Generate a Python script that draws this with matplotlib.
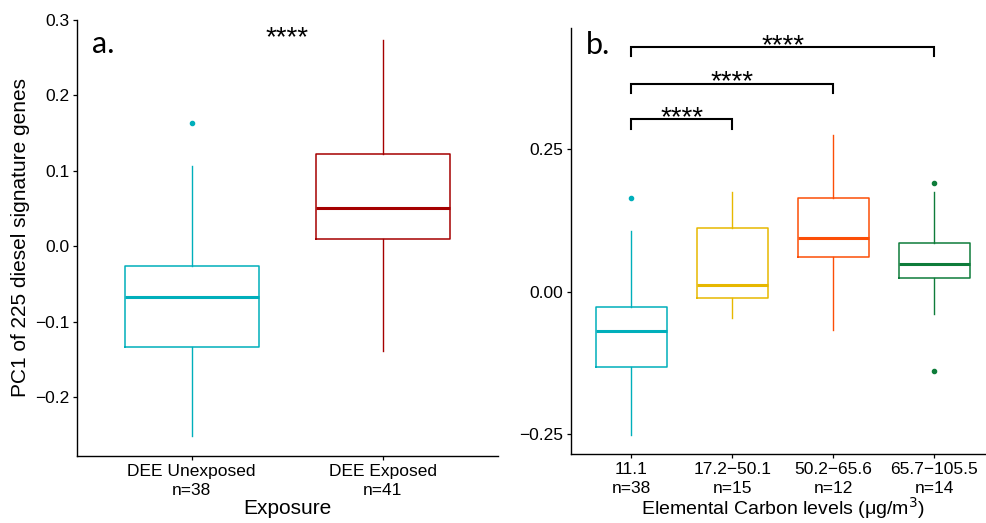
import matplotlib
matplotlib.use("Agg")
import matplotlib.pyplot as plt

plt.rcParams['font.family'] = ['Liberation Sans', 'DejaVu Sans']

# ---------------- data: panel a ----------------
exp_labels = ["DEE Unexposed\nn=38", "DEE Exposed\nn=41"]
exp_colors = ["#00AFBB", "#A50000"]
exp_whislo = [-0.252, -0.139]
exp_q1 = [-0.133, 0.009]
exp_med = [-0.0675, 0.0505]
exp_q3 = [-0.0265, 0.123]
exp_whishi = [0.107, 0.274]
exp_fliers = [[0.164], []]

# ---------------- data: panel b ----------------
ec_labels = ["11.1\nn=38", "17.2\u221250.1\nn=15", "50.2\u221265.6\nn=12", "65.7\u2212105.5\nn=14"]
ec_colors = ["#00AFBB", "#E7B800", "#FC4E07", "#0E7C3A"]
ec_whislo = [-0.251, -0.046, -0.067, -0.039]
ec_q1 = [-0.1328, -0.011, 0.060, 0.0246]
ec_med = [-0.0684, 0.0123, 0.0935, 0.0485]
ec_q3 = [-0.0263, 0.111, 0.164, 0.0848]
ec_whishi = [0.107, 0.175, 0.274, 0.174]
ec_fliers = [[0.164], [], [], [0.190, -0.1386]]

# comparisons (group i vs group j), bracket heights
cmp_pairs = [(1, 2), (1, 3), (1, 4)]
cmp_y = [0.302, 0.365, 0.429]
cmp_label = "****"

fig = plt.figure(figsize=(9.87, 5.23), dpi=100)

def style_axes(ax):
    for s in ["top", "right"]:
        ax.spines[s].set_visible(False)
    for s in ["left", "bottom"]:
        ax.spines[s].set_linewidth(1.0)
        ax.spines[s].set_color("black")
    ax.tick_params(axis="both", length=3, width=0.9, colors="black",
                   labelsize=12.5, pad=2.5)
    ax.tick_params(axis="x", pad=2.5)
    for lab in ax.get_xticklabels():
        lab.set_linespacing(1.35)

def draw_boxes(ax, whislo, q1, med, q3, whishi, fliers, colors):
    stats = []
    for i in range(len(med)):
        stats.append(dict(whislo=whislo[i], q1=q1[i], med=med[i], q3=q3[i],
                          whishi=whishi[i], fliers=fliers[i]))
    pos = list(range(1, len(med) + 1))
    bp = ax.bxp(stats, positions=pos, widths=0.7, showcaps=False,
                patch_artist=False, manage_ticks=False)
    for i, c in enumerate(colors):
        bp["boxes"][i].set_color(c)
        bp["boxes"][i].set_linewidth(1.1)
        bp["medians"][i].set_color(c)
        bp["medians"][i].set_linewidth(2.2)
        bp["medians"][i].set_solid_capstyle("butt")
        for w in bp["whiskers"][2 * i:2 * i + 2]:
            w.set_color(c)
            w.set_linewidth(1.0)
        f = bp["fliers"][i]
        f.set_marker("o")
        f.set_markerfacecolor(c)
        f.set_markeredgecolor(c)
        f.set_markersize(3)

# ---------------- panel a ----------------
axa = fig.add_axes([0.078, 0.1281, 0.4261, 0.8337])
draw_boxes(axa, exp_whislo, exp_q1, exp_med, exp_q3, exp_whishi, exp_fliers, exp_colors)
axa.set_xlim(0.4, 2.6)
axa.set_ylim(-0.278, 0.3)
axa.set_xticks([1, 2])
axa.set_xticklabels(exp_labels)
axa.set_yticks([-0.2, -0.1, 0.0, 0.1, 0.2, 0.3])
axa.set_yticklabels(["\u22120.2", "\u22120.1", "0.0", "0.1", "0.2", "0.3"])
style_axes(axa)
axa.set_ylabel("PC1 of 225 diesel signature genes", fontsize=15)
axa.yaxis.set_label_coords(-0.112, 0.5)
axa.set_xlabel("Exposure", fontsize=15)
axa.xaxis.set_label_coords(0.5, -0.0986)
axa.text(1.5, 0.2754, cmp_label, ha="center", va="center", fontsize=20,
         family=["Liberation Sans"])
axa.text(0.035, 0.924, "a.", transform=axa.transAxes, fontsize=22,
         family=["Lato", "DejaVu Sans"], ha="left", va="baseline")

# ---------------- panel b ----------------
axb = fig.add_axes([0.5782, 0.1319, 0.4299, 0.8151])
draw_boxes(axb, ec_whislo, ec_q1, ec_med, ec_q3, ec_whishi, ec_fliers, ec_colors)
axb.set_xlim(0.4, 4.6)
axb.set_ylim(-0.285, 0.463)
axb.set_xticks([1, 2, 3, 4])
axb.set_xticklabels(ec_labels)
axb.set_yticks([-0.25, 0.0, 0.25])
axb.set_yticklabels(["\u22120.25", "0.00", "0.25"])
style_axes(axb)
axb.set_xlabel("Elemental Carbon levels (\u03bcg/m$^{3}$)", fontsize=14)
axb.xaxis.set_label_coords(0.5, -0.097)

for (i, j), y in zip(cmp_pairs, cmp_y):
    tip = 0.016
    axb.plot([i, i, j, j], [y - tip, y, y, y - tip], color="black", lw=1.5,
             solid_joinstyle="miter")
    axb.text((i + j) / 2, y + 0.002, cmp_label, ha="center", va="center",
             fontsize=20, family=["Liberation Sans"])

axb.text(0.035, 0.938, "b.", transform=axb.transAxes, fontsize=22,
         family=["Lato", "DejaVu Sans"], ha="left", va="baseline")

fig.savefig("out.png", dpi=100)
